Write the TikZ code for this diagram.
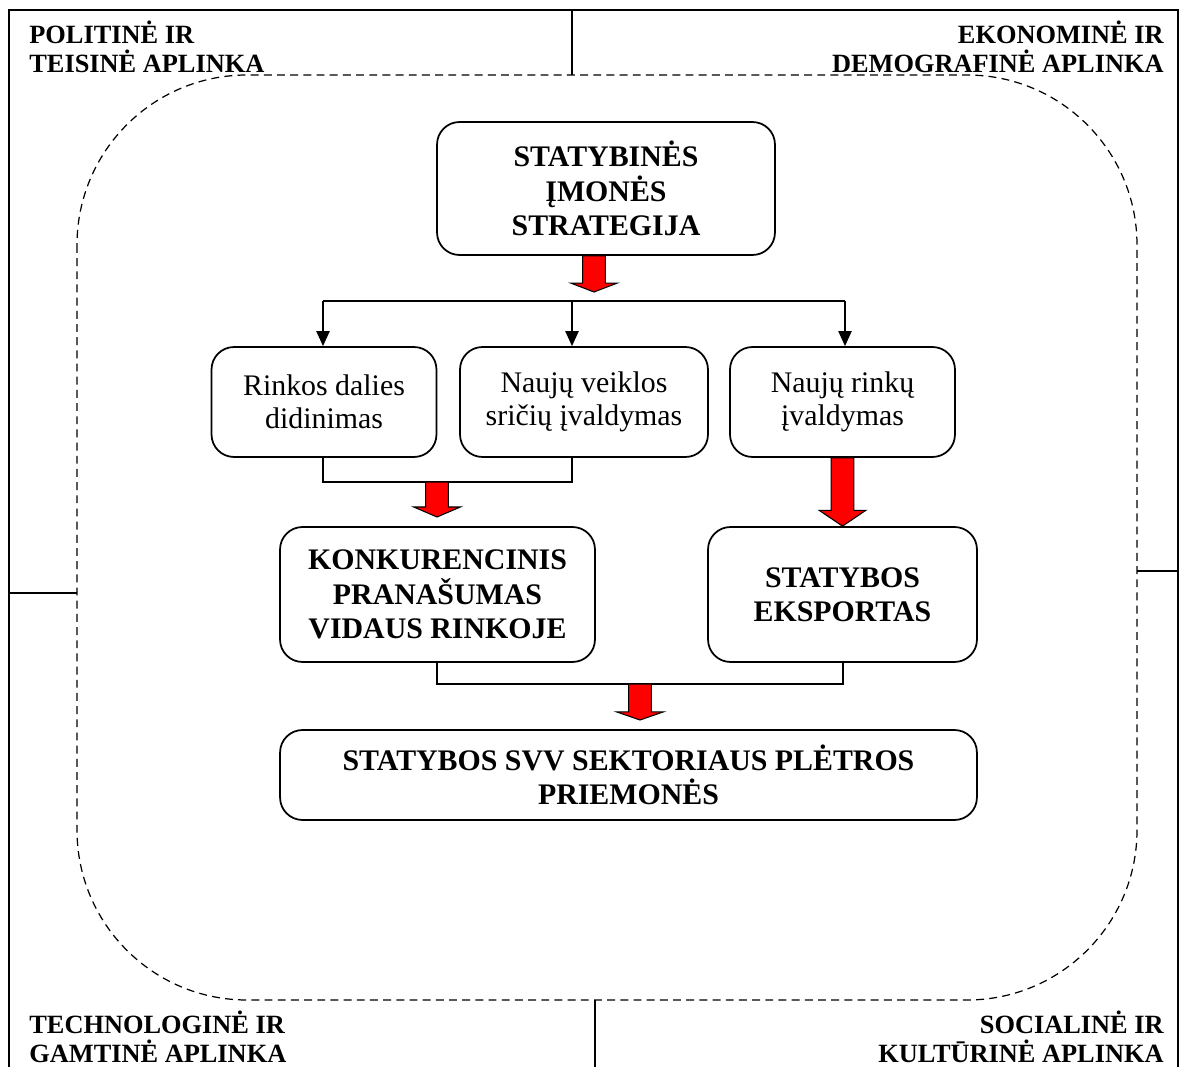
\documentclass[tikz,border=0pt]{standalone}
\usepackage{fontspec}
\setmainfont{Liberation Serif}
\usetikzlibrary{arrows.meta}
\usetikzlibrary{calc}
\tikzset{>={Triangle[length=8.5pt,width=7.5pt]}}
\definecolor{arrowred}{RGB}{255,0,0}
\tikzstyle{frameline}=[draw=black,line width=0.8pt]
\tikzstyle{envline}=[draw=black,line width=0.7pt,dash pattern=on 4.5pt off 3pt,rounded corners=3.4cm]
\tikzstyle{linkline}=[draw=black,line width=0.8pt]
\tikzstyle{stepbox}=[draw=black,line width=1pt,rounded corners=0.45cm,align=center,inner sep=2pt]
\tikzstyle{boldbox}=[stepbox,font=\fontsize{17}{19.5}\selectfont\bfseries]
\tikzstyle{plainbox}=[stepbox,font=\fontsize{17}{19}\selectfont]
\tikzstyle{envlabel}=[inner sep=0pt,font=\fontsize{15}{16.5}\selectfont\bfseries]
\tikzstyle{redarrow}=[fill=arrowred,draw=black,line width=0.6pt,line join=miter]
% block arrow: #1 top point, #2 tip, #3 head length
\newcommand{\blockarrow}[3]{%
  \draw[redarrow] let \p1=(#1), \p2=(#2) in
    (\x2-6.5pt,\y1) -- (\x2-6.5pt,\y2+#3) -- (\x2-13.3pt,\y2+#3) -- (\x2,\y2)
    -- (\x2+13.3pt,\y2+#3) -- (\x2+6.5pt,\y2+#3) -- (\x2+6.5pt,\y1) -- cycle;}

\begin{document}
\begin{tikzpicture}[x=0.02cm,y=-0.02cm]
    \useasboundingbox (0,0) rectangle (1181,1067);

    % environment frame
    \draw[frameline] (9,1067) -- (9,10) -- (1178,10) -- (1178,1067);
    \draw[envline] (77,75) rectangle (1137,1000);
    \draw[frameline] (572,10) -- (572,75);
    \draw[frameline] (595,1000) -- (595,1067);
    \draw[frameline] (9,593) -- (77,593);
    \draw[frameline] (1137,571) -- (1178,571);

    \node[envlabel,anchor=north west,align=left] (politine) at (29,21)
        {POLITINĖ IR\\TEISINĖ APLINKA};
    \node[envlabel,anchor=north east,align=right] (ekonomine) at (1164,21)
        {EKONOMINĖ IR\\DEMOGRAFINĖ APLINKA};
    \node[envlabel,anchor=north west,align=left] (technologine) at (29,1011)
        {TECHNOLOGINĖ IR\\GAMTINĖ APLINKA};
    \node[envlabel,anchor=north east,align=right] (socialine) at (1164,1011)
        {SOCIALINĖ IR\\KULTŪRINĖ APLINKA};

    % boxes
    \node[boldbox,minimum width=6.76cm,minimum height=2.66cm] (strategija) at (606,188.5)
        {STATYBINĖS\\ĮMONĖS\\STRATEGIJA};
    \node[plainbox,minimum width=4.5cm,minimum height=2.2cm] (rinkos) at (324,402)
        {Rinkos dalies\\didinimas};
    \node[plainbox,minimum width=4.96cm,minimum height=2.2cm] (veiklos) at (584,402)
        {Naujų veiklos\\sričių įvaldymas};
    \node[plainbox,minimum width=4.5cm,minimum height=2.2cm] (rinku) at (842.5,402)
        {Naujų rinkų\\įvaldymas};
    \node[boldbox,minimum width=6.3cm,minimum height=2.7cm] (pranasumas) at (437.5,594.5)
        {KONKURENCINIS\\PRANAŠUMAS\\VIDAUS RINKOJE};
    \node[boldbox,minimum width=5.38cm,minimum height=2.7cm] (eksportas) at (842.5,594.5)
        {STATYBOS\\EKSPORTAS};
    \node[boldbox,minimum width=13.94cm,minimum height=1.8cm] (priemones) at (628.5,775)
        {STATYBOS SVV SEKTORIAUS PLĖTROS\\PRIEMONĖS};

    % fork under the strategy
    \coordinate (forkL) at (323,301);
    \coordinate (forkM) at (572,301);
    \coordinate (forkR) at (845,301);
    \coordinate (tipA) at (594,292);
    \blockarrow{strategija.south -| tipA}{tipA}{5.1pt}
    \draw[linkline] (forkL) -- (forkR);
    \draw[linkline,->] (forkL) -- (forkL |- rinkos.north);
    \draw[linkline,->] (forkM) -- (forkM |- veiklos.north);
    \draw[linkline,->] (forkR) -- (forkR |- rinku.north);

    % joins towards the results
    \coordinate (joinL) at (323,482);
    \coordinate (joinR) at (572,482);
    \coordinate (tipB) at (437,517);
    \draw[linkline] (joinL |- rinkos.south) -- (joinL) -- (joinR) -- (joinR |- veiklos.south);
    \blockarrow{tipB |- joinL}{tipB}{5.7pt}
    \blockarrow{rinku.south}{eksportas.north}{9pt}

    \coordinate (lowL) at (437,684);
    \coordinate (lowR) at (843,684);
    \coordinate (tipD) at (640,720);
    \draw[linkline] (lowL |- pranasumas.south) -- (lowL) -- (lowR) -- (lowR |- eksportas.south);
    \blockarrow{tipD |- lowL}{tipD}{4.6pt}
\end{tikzpicture}
\end{document}
